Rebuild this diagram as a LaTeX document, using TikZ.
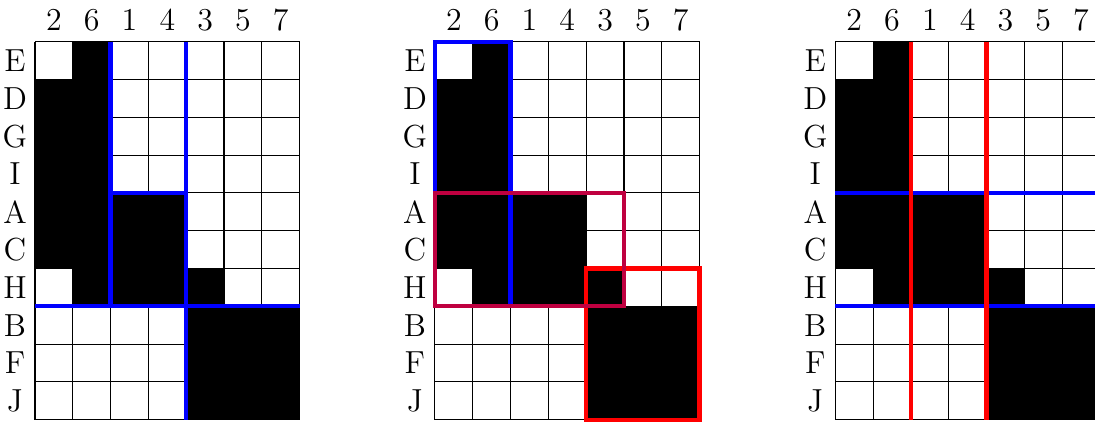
\documentclass[tikz,border=0pt]{standalone}
\usepackage{tikz}
\usetikzlibrary{positioning}

\begin{document}
\begin{tikzpicture}[
    x=0.5cm, y=0.5cm,
    cell/.style={fill=black},
    gridline/.style={line width=0.4pt, step={(1,1)}},
    collabel/.style={font=\large, inner sep=0pt},
    rowlabel/.style={font=\large, inner sep=0pt},
    cut/.style={line width=1.6pt}
]
    \useasboundingbox (-0.926,1.103) rectangle (28.04,-10.045);

    % The same ordered matrix three times
    \foreach \g/\dx in {1/0, 2/10.58, 3/21.17} {
        \begin{scope}[xshift=\dx*0.5cm]
            % Black entries
            \fill[cell] (1,0) rectangle (2,-7);
            \fill[cell] (0,-1) rectangle (1,-6);
            \fill[cell] (2,-4) rectangle (4,-7);
            \fill[cell] (4,-6) rectangle (5,-7);
            \fill[cell] (4,-7) rectangle (7,-10);
            \draw[gridline] (0,0) grid (7,-10);

            % Column and row labels
            \foreach \c [count=\i from 0] in {2,6,1,4,3,5,7}
                \node[collabel] (col\g-\c) at (\i+0.5,0.57) {\c};
            \foreach \r [count=\j from 0] in {E,D,G,I,A,C,H,B,F,J}
                \node[rowlabel] (row\g-\r) at (-0.53,-\j-0.5) {\r};
        \end{scope}
    }

    % Left: block borders
    \draw[cut, blue] (2,0) -- (2,-7);
    \draw[cut, blue] (2,-4) -- (4,-4);
    \draw[cut, blue] (4,0) -- (4,-10);
    \draw[cut, blue] (0,-7) -- (7,-7);

    % Middle: the three boxes
    \begin{scope}[xshift=10.58*0.5cm]
        \draw[cut, blue] (0,0) rectangle (2,-7);
        \draw[cut, red] (4,-6) rectangle (7,-10);
        \draw[cut, purple] (0,-4) rectangle (5,-7);
    \end{scope}

    % Right: row and column cuts
    \begin{scope}[xshift=21.17*0.5cm]
        \draw[cut, blue] (0,-4) -- (7,-4);
        \draw[cut, blue] (0,-7) -- (7,-7);
        \draw[cut, red] (2,0) -- (2,-10);
        \draw[cut, red] (4,0) -- (4,-10);
    \end{scope}

\end{tikzpicture}
\end{document}
